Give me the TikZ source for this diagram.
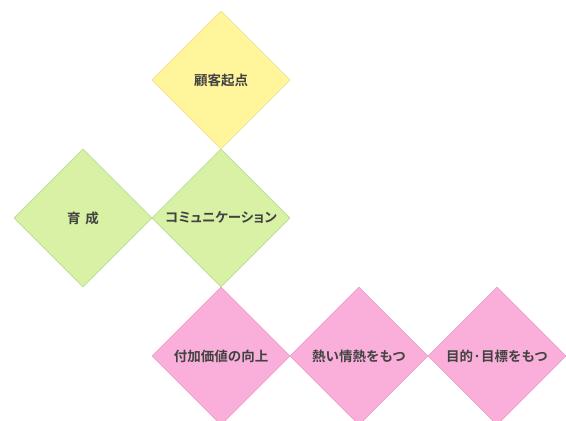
\documentclass[tikz,border=0pt]{standalone}
\usepackage{fontspec}
\usepackage{xcolor}
\usepackage{tikz}
\usetikzlibrary{shapes.geometric,positioning}
\newfontfamily\jpfont{Noto Sans CJK JP Bold}
\newfontfamily\jppalt[RawFeature=+palt]{Noto Sans CJK JP Bold}

\definecolor{ylwfill}{HTML}{FFF69C}
\definecolor{ylwline}{HTML}{EDE28E}
\definecolor{grnfill}{HTML}{D8F1A5}
\definecolor{grnline}{HTML}{B9DC92}
\definecolor{pnkfill}{HTML}{F9AFD9}
\definecolor{pnkline}{HTML}{EDA2CB}
\definecolor{txtgray}{HTML}{424242}

\tikzset{
    dia/.style={diamond, aspect=1, inner sep=0pt, minimum width=138pt, minimum height=138pt,
        line width=0.8pt, text=txtgray, font=\jpfont\fontsize{13.5}{15}\selectfont},
    ylwdia/.style={dia, fill=ylwfill, draw=ylwline},
    grndia/.style={dia, fill=grnfill, draw=grnline},
    pnkdia/.style={dia, fill=pnkfill, draw=pnkline}
}

\begin{document}
\begin{tikzpicture}[x=1pt, y=1pt]
    \path[use as bounding box, clip] (0,0) rectangle (566,421);

    % Top
    \node[ylwdia] (kokyaku) at (221, 341) {顧客起点};

    % Middle row
    \node[grndia] (comm) at (221, 203) {\jppalt コミュニケーション};
    \node[grndia] (ikusei) at (83, 203) {育\hspace{0.35em}成};

    % Bottom row
    \node[pnkdia] (fuka) at (221, 65) {付加価値の向上};
    \node[pnkdia] (atsui) at (359, 65) {熱い情熱をもつ};
    \node[pnkdia] (mokuteki) at (497, 65) {目的·目標をもつ};
\end{tikzpicture}
\end{document}
